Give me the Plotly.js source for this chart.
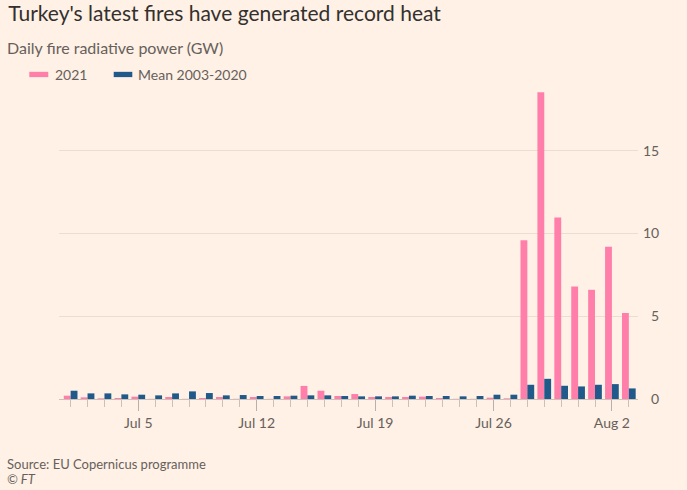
<!DOCTYPE html>
<html>
<head>
<meta charset="utf-8">
<script src="https://cdn.plot.ly/plotly-3.0.1.min.js"></script>
<style>
html,body{margin:0;padding:0;background:#fff1e5;}
#chart{width:687px;height:490px;}
</style>
</head>
<body>
<div id="chart"></div>
<script>
const dates = ["2021-07-01","2021-07-02","2021-07-03","2021-07-04","2021-07-05","2021-07-06","2021-07-07","2021-07-08","2021-07-09","2021-07-10",
"2021-07-11","2021-07-12","2021-07-13","2021-07-14","2021-07-15","2021-07-16","2021-07-17","2021-07-18","2021-07-19","2021-07-20",
"2021-07-21","2021-07-22","2021-07-23","2021-07-24","2021-07-25","2021-07-26","2021-07-27","2021-07-28","2021-07-29","2021-07-30",
"2021-07-31","2021-08-01","2021-08-02","2021-08-03"];
const frp2021 = [0.2,0.1,0.04,0.06,0.14,0.01,0.12,0.01,0.06,0.12,
0.01,0.12,0.01,0.16,0.79,0.5,0.18,0.3,0.12,0.12,
0.12,0.14,0.06,0.01,0.01,0.08,0.04,9.6,18.55,10.97,
6.8,6.6,9.2,5.2];
const frpMean = [0.5,0.34,0.34,0.28,0.26,0.22,0.34,0.46,0.36,0.22,
0.24,0.18,0.18,0.2,0.22,0.22,0.18,0.16,0.16,0.16,
0.2,0.18,0.18,0.16,0.18,0.26,0.26,0.86,1.22,0.8,
0.76,0.86,0.9,0.64];
const xTickVals = ["2021-07-05","2021-07-12","2021-07-19","2021-07-26","2021-08-02"];
const xTickText = ["Jul 5","Jul 12","Jul 19","Jul 26","Aug 2"];
const yTickVals = [0,5,10,15];
const yTickText = ["\u20070","\u20075","10","15"];
const seriesNames = ["2021","Mean 2003-2020"];

const pink = "#ff7faa", blue = "#1f5a8a";
const fontFam = "Lato, 'Open Sans', sans-serif";

const traces = [
  {type:"bar", x:dates, y:frp2021, name:seriesNames[0], marker:{color:pink}, showlegend:false, hoverinfo:"x+y"},
  {type:"bar", x:dates, y:frpMean, name:seriesNames[1], marker:{color:blue}, showlegend:false, hoverinfo:"x+y"}
];

const layout = {
  width:687, height:490,
  paper_bgcolor:"#fff1e5", plot_bgcolor:"#fff1e5",
  margin:{l:59, r:49, t:88, b:91},
  font:{family:fontFam, color:"#66605c", size:14},
  barmode:"group", bargap:0.19, bargroupgap:0,
  title:{text:"Turkey's latest fires have generated record heat", x:0.012, xanchor:"left", y:0.972, yanchor:"middle",
         font:{family:fontFam, size:21, color:"#33302e"}},
  xaxis:{type:"date", range:["2021-06-30 07:30","2021-08-03 13:00"],
         tickvals:xTickVals, ticktext:xTickText, ticks:"outside", ticklen:11, tickcolor:"#b8b0aa", tickwidth:1,
         minor:{tick0:"2021-07-01", dtick:86400000, ticks:"outside", ticklen:7, tickcolor:"#ccc1b7", tickwidth:1, showgrid:false},
         showgrid:false, zeroline:false, showline:true, linecolor:"#ccc1b7", linewidth:1,
         tickfont:{size:14, color:"#66605c"}, fixedrange:true},
  yaxis:{side:"right", range:[0,18.8], tickvals:yTickVals, ticktext:yTickText, ticks:"",
         showgrid:true, gridcolor:"#e9ded5", gridwidth:1, zeroline:false, showline:false,
         ticklabelstandoff:4, tickfont:{size:14, color:"#66605c"}, fixedrange:true},
  shapes:[
    {type:"rect", xref:"paper", yref:"paper", x0:-0.0513, x1:-0.0185, y0:1.052, y1:1.035, line:{width:0}, fillcolor:pink},
    {type:"rect", xref:"paper", yref:"paper", x0:0.0945, x1:0.1266, y0:1.052, y1:1.035, line:{width:0}, fillcolor:blue}
  ],
  annotations:[
    {text:"Daily fire radiative power (GW)", xref:"paper", yref:"paper", x:-0.094, y:1.13, xanchor:"left", yanchor:"middle", showarrow:false,
     font:{size:16, color:"#66605c"}},
    {text:seriesNames[0], xref:"paper", yref:"paper", x:-0.0105, y:1.044, xanchor:"left", yanchor:"middle", showarrow:false,
     font:{size:14, color:"#66605c"}},
    {text:seriesNames[1], xref:"paper", yref:"paper", x:0.133, y:1.044, xanchor:"left", yanchor:"middle", showarrow:false,
     font:{size:14, color:"#66605c"}},
    {text:"Source: EU Copernicus programme", xref:"paper", yref:"paper", x:-0.094, y:-0.21, xanchor:"left", yanchor:"middle", showarrow:false,
     font:{size:13, color:"#66605c"}},
    {text:"<i>© FT</i>", xref:"paper", yref:"paper", x:-0.094, y:-0.258, xanchor:"left", yanchor:"middle", showarrow:false,
     font:{size:13, color:"#66605c"}}
  ]
};
Plotly.newPlot("chart", traces, layout, {displayModeBar:false, staticPlot:true});
</script>
</body>
</html>
